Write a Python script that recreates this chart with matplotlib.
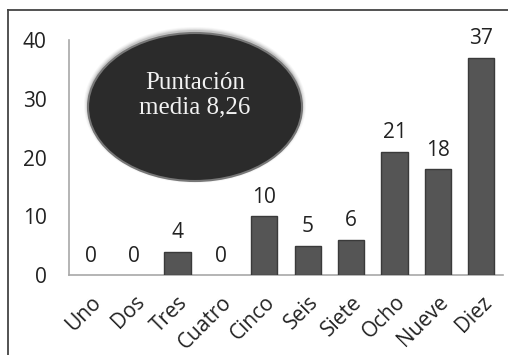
import matplotlib
matplotlib.use("Agg")
import matplotlib.pyplot as plt
from matplotlib.patches import Ellipse
from matplotlib.lines import Line2D

# Datos del gráfico
categorias = ["Uno", "Dos", "Tres", "Cuatro", "Cinco", "Seis", "Siete", "Ocho", "Nueve", "Diez"]
valores = [0, 0, 4, 0, 10, 5, 6, 21, 18, 37]
y_ticks = [0, 10, 20, 30, 40]
texto_media = "Puntación\nmedia 8,26"

W, H = 508, 355
fig = plt.figure(figsize=(W / 100, H / 100), dpi=100)
ax = fig.add_axes([69 / W, 1 - 275 / H, (503 - 69) / W, (275 - 40) / H])

x = list(range(len(categorias)))
barras = ax.bar(x, valores, width=0.6, color="#555555", edgecolor="#3a3a3a", linewidth=1, zorder=3)
for b, v in zip(barras, valores):
    if v == 0:
        b.set_linewidth(0)

for xi, v in zip(x, valores):
    ax.annotate(str(v), (xi, v), xytext=(0, 6), textcoords="offset points",
                ha="center", va="bottom", fontsize=15, color="#222222",
                family="Open Sans")

ax.set_xlim(-0.5, len(categorias) - 0.5)
ax.set_ylim(0, 40)
ax.set_yticks(y_ticks)
ax.set_xticks(x)
ax.set_xticklabels(categorias, rotation=45, ha="right", rotation_mode="anchor",
                   fontsize=15, family="Open Sans", color="#222222")
ax.tick_params(axis="both", length=0)
ax.tick_params(axis="y", pad=16, labelsize=15, labelcolor="#222222")
ax.tick_params(axis="x", pad=12)
for lab in ax.get_yticklabels():
    lab.set_family("Open Sans")

for s in ["top", "right"]:
    ax.spines[s].set_visible(False)
for s in ["left", "bottom"]:
    ax.spines[s].set_color("#a8a8a8")
    ax.spines[s].set_linewidth(1.2)

# Óvalo con la puntuación media
cx, cy, ew, eh = 195 / W, 1 - 107 / H, 214 / W, 148 / H
for k, a in [(8, 0.08), (6, 0.12), (4, 0.2), (2, 0.35)]:
    fig.add_artist(Ellipse((cx, cy + 2 / H), ew + k / W, eh + k / H, transform=fig.transFigure,
                           facecolor="#9a9a9a", edgecolor="none", alpha=a, zorder=5))
fig.add_artist(Ellipse((cx, cy), ew, eh, transform=fig.transFigure,
                       facecolor="#2b2b2b", edgecolor="#777777", linewidth=1.5, zorder=6))
fig.text(cx, 1 - 95 / H, texto_media, ha="center", va="center", fontsize=18,
         family="Liberation Serif", color="#f2f2f2", linespacing=1.15, zorder=7)

# Marco exterior
fig.add_artist(Line2D([8 / W, 8 / W], [0, 1 - 10 / H], transform=fig.transFigure,
                      color="#444444", linewidth=1.3))
fig.add_artist(Line2D([8 / W, 1], [1 - 10 / H, 1 - 10 / H], transform=fig.transFigure,
                      color="#444444", linewidth=1.3))

fig.savefig("out.png", dpi=100)
